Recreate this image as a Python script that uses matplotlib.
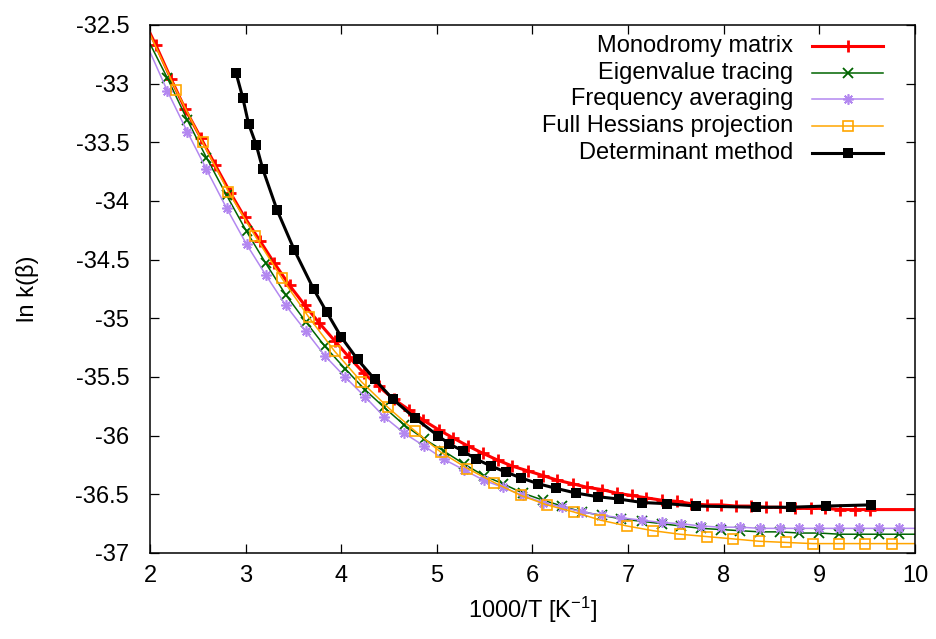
import numpy as np
import matplotlib
matplotlib.use("Agg")
import matplotlib.pyplot as plt
from matplotlib.ticker import FuncFormatter, MultipleLocator

plt.rcParams['font.family'] = ['Liberation Sans', 'DejaVu Sans']
plt.rcParams['axes.unicode_minus'] = False
plt.rcParams['mathtext.default'] = 'regular'

# first and last entries of the four method curves are where the line meets the frame
mono_x = [2.00, 2.06, 2.22, 2.37, 2.53, 2.68, 2.84, 2.99, 3.15, 3.30, 3.46, 3.62, 3.77, 3.93,
          4.08, 4.24, 4.39, 4.55, 4.71, 4.86, 5.02, 5.17, 5.33, 5.48, 5.64, 5.79, 5.95,
          6.11, 6.26, 6.42, 6.57, 6.73, 6.88, 7.04, 7.19, 7.35, 7.51, 7.66, 7.82, 7.97,
          8.13, 8.28, 8.44, 8.59, 8.75, 8.91, 9.06, 9.22, 9.37, 9.53, 10.00]
mono_y = [-32.57, -32.67, -32.96, -33.22, -33.46, -33.69, -33.93, -34.14, -34.34, -34.53,
          -34.72, -34.89, -35.04, -35.19, -35.33, -35.47, -35.58, -35.69, -35.78, -35.87,
          -35.95, -36.02, -36.09, -36.15, -36.21, -36.26, -36.30, -36.34, -36.38, -36.41,
          -36.44, -36.46, -36.49, -36.51, -36.53, -36.55, -36.56, -36.58, -36.59, -36.59,
          -36.60, -36.60, -36.61, -36.61, -36.62, -36.62, -36.62, -36.63, -36.63, -36.63,
          -36.63]

eig_x = [2.00, 2.18, 2.39, 2.59, 2.80, 3.01, 3.21, 3.42, 3.63, 3.83, 4.04, 4.25, 4.45, 4.66,
         4.87, 5.07, 5.28, 5.49, 5.69, 5.90, 6.11, 6.31, 6.52, 6.73, 6.93, 7.14, 7.35,
         7.55, 7.76, 7.97, 8.17, 8.38, 8.59, 8.79, 9.00, 9.21, 9.41, 9.62, 9.83, 10.00]
eig_y = [-32.66, -32.95, -33.31, -33.63, -33.95, -34.26, -34.53, -34.80, -35.03, -35.24,
         -35.43, -35.61, -35.76, -35.91, -36.03, -36.13, -36.24, -36.34, -36.41, -36.49,
         -36.55, -36.60, -36.65, -36.68, -36.71, -36.73, -36.75, -36.77, -36.79, -36.80,
         -36.81, -36.82, -36.82, -36.83, -36.83, -36.84, -36.84, -36.84, -36.84, -36.84]

freq_x = eig_x
freq_y = [-32.73, -33.06, -33.41, -33.73, -34.06, -34.37, -34.63, -34.89, -35.11, -35.32,
          -35.50, -35.67, -35.84, -35.98, -36.09, -36.20, -36.29, -36.38, -36.44, -36.51,
          -36.57, -36.61, -36.65, -36.68, -36.70, -36.72, -36.74, -36.75, -36.77, -36.78,
          -36.78, -36.79, -36.79, -36.79, -36.79, -36.79, -36.79, -36.79, -36.79, -36.79]

hess_x = [2.00, 2.27, 2.55, 2.82, 3.10, 3.38, 3.66, 3.93, 4.21, 4.49, 4.77, 5.04, 5.32, 5.60,
          5.88, 6.15, 6.43, 6.71, 6.99, 7.26, 7.54, 7.82, 8.10, 8.37, 8.65, 8.93, 9.21,
          9.48, 9.76, 10.00]
hess_y = [-32.58, -33.05, -33.50, -33.92, -34.30, -34.66, -34.99, -35.28, -35.54, -35.76,
          -35.96, -36.14, -36.28, -36.40, -36.51, -36.59, -36.65, -36.72, -36.77, -36.81,
          -36.84, -36.86, -36.88, -36.90, -36.91, -36.92, -36.92, -36.92, -36.92, -36.92]

det_x = [2.90, 2.97, 3.03, 3.11, 3.18, 3.33, 3.51, 3.71, 3.85, 4.00, 4.17, 4.35, 4.54, 4.77,
         5.01, 5.13, 5.27, 5.41, 5.57, 5.72, 5.88, 6.06, 6.25, 6.46, 6.68, 6.90, 7.15,
         7.41, 7.71, 8.34, 8.70, 9.07, 9.54]
det_y = [-32.91, -33.12, -33.34, -33.52, -33.73, -34.08, -34.42, -34.75, -34.95, -35.16,
         -35.35, -35.52, -35.69, -35.85, -36.00, -36.07, -36.13, -36.20, -36.26, -36.31,
         -36.36, -36.41, -36.45, -36.49, -36.52, -36.54, -36.57, -36.58, -36.60, -36.61,
         -36.61, -36.60, -36.59]

labels = ["Monodromy matrix", "Eigenvalue tracing", "Frequency averaging",
          "Full Hessians projection", "Determinant method"]

x_ticks = [2, 3, 4, 5, 6, 7, 8, 9, 10]

fig = plt.figure(figsize=(9.37, 6.39), dpi=100)
ax = fig.add_axes([0.1601, 0.1346, 0.8164, 0.8263])

styles = [
    dict(color='#ff0000', lw=2.2, marker='+', ms=8.5, mew=2),
    dict(color='#006400', lw=1.1, marker='x', ms=6.5, mew=1.3),
    dict(color='#b388f0', lw=1.1, marker=(8, 2, 0), ms=7.5, mew=1.2),
    dict(color='#ffa500', lw=1.1, marker='s', ms=7, mew=1.2, mfc='none'),
    dict(color='#000000', lw=2.2, marker='s', ms=7.5, mew=0),
]
data = [(mono_x, mono_y), (eig_x, eig_y), (freq_x, freq_y), (hess_x, hess_y), (det_x, det_y)]

for i, ((xs, ys), st) in enumerate(zip(data, styles)):
    every = None if i == 4 else slice(1, -1)
    ax.plot(xs, ys, markevery=every, **st)

fs = 17
ax.set_xlim(2, 10)
ax.set_ylim(-37, -32.5)
ax.set_xticks(x_ticks)
ax.yaxis.set_major_locator(MultipleLocator(0.5))
ax.yaxis.set_major_formatter(FuncFormatter(lambda v, p: '%g' % v))
ax.tick_params(direction='in', length=6.5, width=0.9, top=True, right=True, labelsize=fs)
ax.tick_params(axis='x', pad=9)
ax.tick_params(axis='y', pad=15)
for s in ax.spines.values():
    s.set_linewidth(1.1)

ax.set_xlabel('1000/T [K$^{-1}$]', fontsize=fs)
ax.set_ylabel('ln k(β)', fontsize=fs)
ax.xaxis.set_label_coords(0.5, -0.08)
ax.yaxis.set_label_coords(-0.145, 0.5)

# legend drawn by hand, gnuplot style: text right-aligned, sample on the right
ty = 0.9602
for lab, st in zip(labels, styles):
    ax.text(0.8405, ty, lab, transform=ax.transAxes, ha='right', va='center', fontsize=fs)
    ax.plot([0.8654, 0.9582], [ty, ty], transform=ax.transAxes, color=st['color'],
            lw=st['lw'], clip_on=False)
    mk = {k: v for k, v in st.items() if k in ('marker', 'ms', 'mew', 'mfc')}
    ax.plot([0.9124], [ty], transform=ax.transAxes, color=st['color'], ls='none',
            clip_on=False, **mk)
    ty -= 0.05057

fig.savefig('out.png', dpi=100)
